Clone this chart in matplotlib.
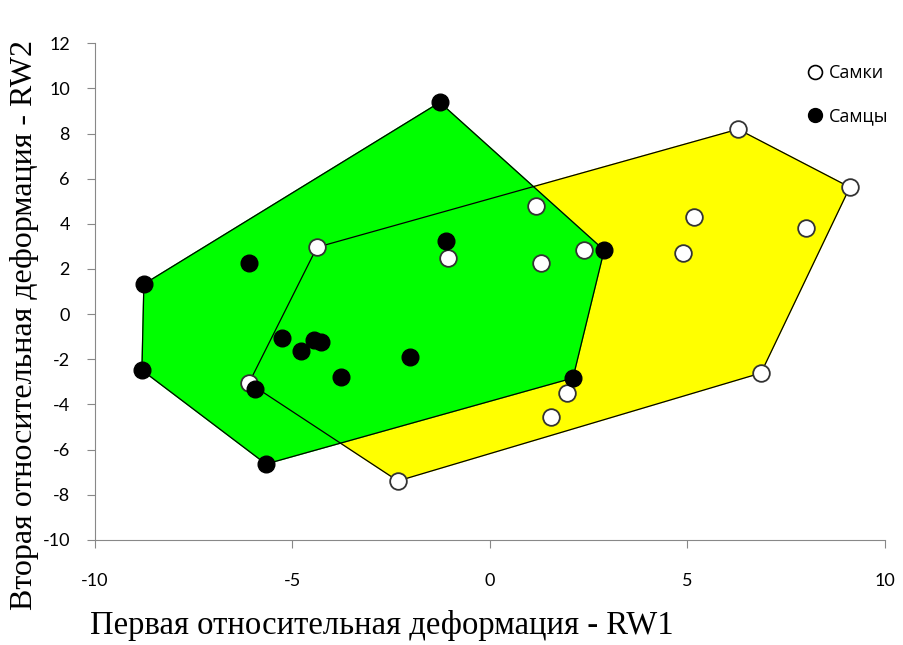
import matplotlib
matplotlib.use('Agg')
import matplotlib.pyplot as plt
from matplotlib.lines import Line2D
import numpy as np

plt.rcParams['axes.unicode_minus'] = False

# Самки (females)
fem_x = [6.28, 9.11, 1.16, 5.16, 8.0, 2.38, 1.29, 4.89, -4.38, -1.06, -6.1, 1.95, 1.54, 6.86, -2.33]
fem_y = [8.19, 5.62, 4.78, 4.29, 3.81, 2.83, 2.26, 2.7, 2.96, 2.48, -3.05, -3.5, -4.56, -2.61, -7.39]

# Самцы (males)
mal_x = [-1.27, -8.76, -8.81, -6.1, -1.11, 2.89, -5.27, -4.78, -4.46, -4.28, -2.03, -3.77, -5.95, -5.67, 2.1]
mal_y = [9.38, 1.33, -2.48, 2.26, 3.23, 2.83, -1.06, -1.64, -1.15, -1.24, -1.9, -2.79, -3.32, -6.64, -2.83]

x_ticks = [-10, -5, 0, 5, 10]
y_ticks = [12, 10, 8, 6, 4, 2, 0, -2, -4, -6, -8, -10]


def hull(xs, ys):
    pts = sorted(set(zip(xs, ys)))

    def cross(o, a, b):
        return (a[0] - o[0]) * (b[1] - o[1]) - (a[1] - o[1]) * (b[0] - o[0])

    lower, upper = [], []
    for p in pts:
        while len(lower) >= 2 and cross(lower[-2], lower[-1], p) <= 0:
            lower.pop()
        lower.append(p)
    for p in reversed(pts):
        while len(upper) >= 2 and cross(upper[-2], upper[-1], p) <= 0:
            upper.pop()
        upper.append(p)
    return np.array(lower[:-1] + upper[:-1])


fig = plt.figure(figsize=(9.04, 6.45), dpi=100)
ax = fig.add_axes([0.105, 0.163, 0.874, 0.770])

hf = hull(fem_x, fem_y)
hm = hull(mal_x, mal_y)
ax.fill(hf[:, 0], hf[:, 1], color='#ffff00', zorder=1)
ax.fill(hm[:, 0], hm[:, 1], color='#00ff00', zorder=2)
ax.fill(hf[:, 0], hf[:, 1], facecolor='none', edgecolor='black', lw=0.9, zorder=3)
ax.fill(hm[:, 0], hm[:, 1], facecolor='none', edgecolor='black', lw=0.9, zorder=3)

ax.plot(fem_x, fem_y, 'o', ms=12, mfc='white', mec='#333333', mew=1.3, zorder=4)
ax.plot(mal_x, mal_y, 'o', ms=12, mfc='black', mec='black', mew=1, zorder=5)

ax.set_xlim(-10, 10)
ax.set_ylim(-10, 12)
ax.set_xticks(x_ticks)
ax.set_yticks(y_ticks)
ax.tick_params(direction='out', length=6, color='#888888', labelsize=13)
for lab in ax.get_xticklabels() + ax.get_yticklabels():
    lab.set_family('Lato')
ax.tick_params(axis='x', pad=18)
ax.tick_params(axis='y', pad=12)
for s in ['top', 'right']:
    ax.spines[s].set_visible(False)
for s in ['left', 'bottom']:
    ax.spines[s].set_color('#888888')

ax.set_xlabel('Первая относительная деформация - RW1', family='Liberation Serif',
              fontsize=23.5, loc='left')
ax.xaxis.set_label_coords(-0.006, -0.142)
ax.set_ylabel('Вторая относительная деформация - RW2', family='Liberation Serif',
              fontsize=23)
ax.yaxis.set_label_coords(-0.071, 0.433)

handles = [Line2D([], [], ls='', marker='o', ms=10, mfc='white', mec='black', mew=1.2),
           Line2D([], [], ls='', marker='o', ms=10, mfc='black', mec='black')]
ax.legend(handles, ['Самки', 'Самцы'], loc='upper right', bbox_to_anchor=(1.025, 0.99),
          frameon=False, handletextpad=0.0, handlelength=1.5, labelspacing=1.4,
          prop={'family': 'Open Sans', 'size': 13})

fig.savefig('out.png', dpi=100, facecolor='white')
